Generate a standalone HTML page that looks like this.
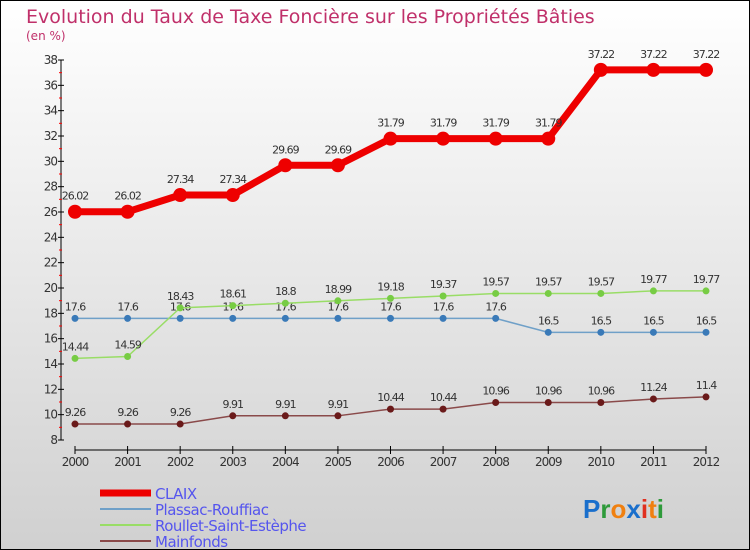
<!DOCTYPE html>
<html><head><meta charset="utf-8"><style>
body{margin:0;width:750px;height:550px;overflow:hidden;font-family:"DejaVu Sans","Liberation Sans",sans-serif}
svg{display:block}
</style></head><body>
<svg id="c" width="750" height="550">
<defs><linearGradient id="bg" x1="0" y1="0" x2="0" y2="1"><stop offset="0" stop-color="#ffffff"/><stop offset="1" stop-color="#d0d0d0"/></linearGradient></defs>
<rect x="0.5" y="0.5" width="749" height="549" fill="url(#bg)" stroke="#000"/>
<text x="26" y="23" font-size="19" fill="#c0306a">Evolution du Taux de Taxe Foncière sur les Propriétés Bâties</text>
<text x="26" y="40" font-size="12" fill="#c0306a">(en %)</text>
<g id="axes"></g><g id="series"></g><g id="legend"></g>
<text x="583" y="518" font-size="26" font-family="Liberation Sans, sans-serif" font-weight="bold"><tspan fill="#1a6fcc">P</tspan><tspan fill="#2e9a3a">r</tspan><tspan fill="#f08010">o</tspan><tspan fill="#1a6fcc">x</tspan><tspan fill="#e03020">i</tspan><tspan fill="#f08010">t</tspan><tspan fill="#2e9a3a">i</tspan></text>
</svg>
<script>
const years=[2000,2001,2002,2003,2004,2005,2006,2007,2008,2009,2010,2011,2012];
const yTicks=[8,10,12,14,16,18,20,22,24,26,28,30,32,34,36,38];
const claix=[26.02,26.02,27.34,27.34,29.69,29.69,31.79,31.79,31.79,31.79,37.22,37.22,37.22];
const plassac=[17.6,17.6,17.6,17.6,17.6,17.6,17.6,17.6,17.6,16.5,16.5,16.5,16.5];
const roullet=[14.44,14.59,18.43,18.61,18.8,18.99,19.18,19.37,19.57,19.57,19.57,19.77,19.77];
const mainfonds=[9.26,9.26,9.26,9.91,9.91,9.91,10.44,10.44,10.96,10.96,10.96,11.24,11.4];
const names=["CLAIX","Plassac-Rouffiac","Roullet-Saint-Estèphe","Mainfonds"];
const NS="http://www.w3.org/2000/svg";
function X(i){return 75+i*(706-75)/(years.length-1);}
function Y(v){return 440-(v-8)*(380/30);}
function mk(tag,at,p){const e=document.createElementNS(NS,tag);for(const k in at)e.setAttribute(k,at[k]);p.appendChild(e);return e;}
const ax=document.getElementById('axes');
mk('line',{x1:61,y1:Y(38),x2:61,y2:Y(8),stroke:'#000'},ax);
mk('line',{x1:X(0),y1:450,x2:X(12),y2:450,stroke:'#000'},ax);
yTicks.forEach(t=>{
  mk('line',{x1:58,y1:Y(t),x2:64,y2:Y(t),stroke:'#000'},ax);
  if(t<38){mk('line',{x1:59,y1:Y(t+1),x2:62,y2:Y(t+1),stroke:'#f00'},ax);}
  const tx=mk('text',{x:57,y:Y(t)+4,'font-size':12,fill:'#333','text-anchor':'end','letter-spacing':'-1'},ax);tx.textContent=t;
  
  
});
years.forEach((yr,i)=>{
  mk('line',{x1:X(i),y1:446,x2:X(i),y2:454,stroke:'#000'},ax);
  const tx=mk('text',{x:X(i),y:466,'font-size':12,fill:'#333','text-anchor':'middle','letter-spacing':'-1'},ax);tx.textContent=yr;
  
  
});
const S=document.getElementById('series');
const cfg=[[claix,'#ee0000',7,7],[plassac,'#6fa0c8',1.5,3.5],[roullet,'#99dd66',1.5,3.5],[mainfonds,'#8a4a4a',1.5,3.5]];
const dotc=['#ee0000','#3a7ab8','#77cc44','#6a1a1a'];
cfg.forEach((c,si)=>{
  const g=mk('g',{},S);
  
  
  mk('polyline',{points:c[0].map((v,i)=>X(i)+','+Y(v)).join(' '),fill:'none',stroke:c[1],'stroke-width':c[2]},g);
  c[0].forEach((v,i)=>{
    const d=mk('circle',{cx:X(i),cy:Y(v),r:c[3],fill:dotc[si]},g);
    
    
    const t=mk('text',{x:X(i),y:Y(v)-(si==0?12:8),'font-size':11,fill:'#333','text-anchor':'middle','letter-spacing':'-1'},g);
    t.textContent=v;
  });
});
const L=document.getElementById('legend');
const lc=['#ee0000','#6fa0c8','#99dd66','#8a4a4a'],lw=[7,2,2,2];
names.forEach((n,i)=>{
  const y=493+i*16;
  const g=mk('g',{},L);
  
  
  mk('line',{x1:100,y1:y,x2:151,y2:y,stroke:lc[i],'stroke-width':lw[i]},g);
  const t=mk('text',{x:155,y:y+6,'font-size':15,fill:'#5555ee','letter-spacing':'-0.5'},g);t.textContent=n;
});
</script>
</body></html>
